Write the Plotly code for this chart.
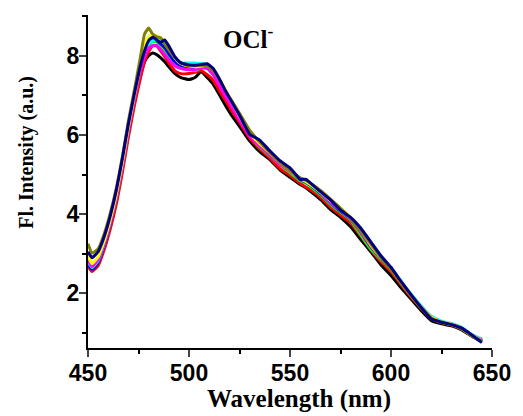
import plotly.graph_objects as go

wavelength = [450, 452, 455, 458, 461, 464, 467, 470, 473, 476, 478, 480, 482, 484, 486, 488, 490, 493, 496, 500,
              503, 506, 509, 512, 515, 518, 521, 525, 530, 535, 540, 545, 550, 555, 558, 562, 566, 570, 575, 580,
              585, 590, 595, 600, 605, 610, 615, 620, 625, 630, 635, 640, 645]

black = [2.85, 2.70, 2.85, 3.25, 3.80, 4.45, 5.25, 6.10, 6.85, 7.50, 7.85, 8.00, 8.07, 8.03, 7.95, 7.85, 7.72, 7.55, 7.45, 7.40,
         7.45, 7.60, 7.45, 7.28, 7.02, 6.75, 6.50, 6.22, 5.85, 5.58, 5.38, 5.12, 4.93, 4.75, 4.66, 4.50, 4.33, 4.12, 3.92, 3.68,
         3.36, 3.05, 2.72, 2.45, 2.14, 1.85, 1.56, 1.31, 1.23, 1.18, 1.08, 0.92, 0.78]
red = [2.68, 2.55, 2.70, 3.10, 3.62, 4.25, 5.05, 5.95, 6.75, 7.45, 7.85, 8.10, 8.25, 8.25, 8.12, 7.98, 7.82, 7.62, 7.55, 7.55,
       7.58, 7.63, 7.52, 7.38, 7.12, 6.88, 6.62, 6.32, 5.92, 5.65, 5.42, 5.15, 4.98, 4.78, 4.68, 4.55, 4.38, 4.18, 3.98, 3.78,
       3.45, 3.10, 2.80, 2.55, 2.22, 1.90, 1.62, 1.35, 1.26, 1.20, 1.10, 0.92, 0.80]
green = [2.80, 2.62, 2.80, 3.20, 3.75, 4.40, 5.20, 6.10, 6.92, 7.65, 8.05, 8.28, 8.35, 8.35, 8.25, 8.12, 7.95, 7.78, 7.70, 7.68,
         7.62, 7.70, 7.72, 7.55, 7.30, 7.02, 6.75, 6.42, 6.00, 5.70, 5.48, 5.25, 5.05, 4.85, 4.78, 4.62, 4.45, 4.25, 4.05, 3.85,
         3.48, 3.12, 2.85, 2.60, 2.26, 1.94, 1.64, 1.38, 1.27, 1.21, 1.11, 0.93, 0.80]
blue = [2.75, 2.60, 2.78, 3.20, 3.75, 4.42, 5.22, 6.12, 6.95, 7.70, 8.10, 8.32, 8.40, 8.38, 8.30, 8.20, 8.05, 7.85, 7.75, 7.72,
        7.70, 7.72, 7.74, 7.60, 7.35, 7.05, 6.78, 6.45, 6.02, 5.75, 5.50, 5.28, 5.10, 4.88, 4.80, 4.66, 4.48, 4.28, 4.08, 3.88,
        3.55, 3.18, 2.88, 2.62, 2.28, 1.96, 1.66, 1.40, 1.28, 1.22, 1.12, 0.94, 0.82]
cyan = [2.80, 2.65, 2.82, 3.25, 3.80, 4.45, 5.25, 6.15, 6.98, 7.70, 8.10, 8.30, 8.38, 8.40, 8.40, 8.32, 8.22, 7.95, 7.82, 7.82,
        7.82, 7.80, 7.78, 7.62, 7.35, 7.05, 6.78, 6.45, 6.05, 5.78, 5.52, 5.30, 5.12, 4.90, 4.82, 4.68, 4.50, 4.30, 4.10, 3.90,
        3.58, 3.22, 2.90, 2.64, 2.30, 1.98, 1.68, 1.42, 1.30, 1.24, 1.14, 0.96, 0.85]
magenta = [2.85, 2.68, 2.85, 3.25, 3.78, 4.42, 5.22, 6.12, 6.92, 7.62, 7.98, 8.18, 8.26, 8.26, 8.15, 8.03, 7.90, 7.75, 7.68, 7.65,
           7.65, 7.70, 7.68, 7.52, 7.25, 6.98, 6.72, 6.38, 5.98, 5.72, 5.50, 5.25, 5.08, 4.90, 4.82, 4.70, 4.50, 4.30, 4.10, 3.88,
           3.55, 3.20, 2.88, 2.62, 2.28, 1.95, 1.65, 1.40, 1.28, 1.22, 1.12, 0.95, 0.82]
yellow = [2.95, 2.75, 2.92, 3.32, 3.85, 4.50, 5.30, 6.20, 7.00, 7.78, 8.25, 8.48, 8.53, 8.50, 8.45, 8.38, 8.22, 7.95, 7.80, 7.74,
          7.72, 7.74, 7.75, 7.65, 7.42, 7.15, 6.85, 6.48, 6.05, 5.78, 5.55, 5.30, 5.10, 4.90, 4.82, 4.68, 4.52, 4.35, 4.15, 3.92,
          3.60, 3.22, 2.90, 2.62, 2.28, 1.95, 1.65, 1.40, 1.28, 1.22, 1.12, 0.94, 0.80]
olive = [3.25, 3.02, 3.12, 3.50, 4.02, 4.65, 5.45, 6.35, 7.15, 7.98, 8.55, 8.70, 8.55, 8.48, 8.45, 8.30, 8.15, 7.95, 7.82, 7.75,
         7.75, 7.76, 7.74, 7.62, 7.40, 7.12, 6.88, 6.55, 6.12, 5.82, 5.55, 5.30, 5.10, 4.92, 4.85, 4.72, 4.56, 4.38, 4.15, 3.90,
         3.58, 3.25, 2.90, 2.60, 2.26, 1.94, 1.64, 1.38, 1.27, 1.21, 1.11, 0.93, 0.80]
navy = [3.05, 2.90, 3.05, 3.43, 3.95, 4.60, 5.40, 6.28, 7.05, 7.75, 8.12, 8.38, 8.47, 8.40, 8.34, 8.40, 8.25, 7.98, 7.82, 7.77,
        7.76, 7.78, 7.80, 7.68, 7.42, 7.12, 6.85, 6.50, 6.02, 5.87, 5.60, 5.35, 5.17, 4.88, 4.88, 4.70, 4.53, 4.36, 4.10, 3.92,
        3.65, 3.30, 2.95, 2.66, 2.30, 1.96, 1.64, 1.35, 1.27, 1.21, 1.12, 0.95, 0.76]

series = [
    ("black", black, "#000000"),
    ("red", red, "#FF0000"),
    ("green", green, "#00FF00"),
    ("blue", blue, "#0000FF"),
    ("cyan", cyan, "#00FFFF"),
    ("magenta", magenta, "#FF00FF"),
    ("yellow", yellow, "#FFFF00"),
    ("olive", olive, "#808000"),
    ("navy", navy, "#000080"),
]

fig = go.Figure()
for name, vals, col in series:
    fig.add_trace(go.Scatter(x=wavelength, y=vals, mode="lines", name=name,
                             line=dict(color=col, width=3, shape="spline", smoothing=0.4)))

tickfont = dict(family="Liberation Sans, Arial, sans-serif", size=23, color="black", weight="bold")
serif = "Liberation Serif, Times New Roman, serif"

plot_w = 523 - 88 - 26
plot_h = 416 - 15 - 68

fig.update_layout(
    width=523, height=416,
    margin=dict(l=88, r=26, t=15, b=68),
    paper_bgcolor="white", plot_bgcolor="white",
    showlegend=False,
    xaxis=dict(range=[450, 650], tickvals=[450, 500, 550, 600, 650], ticks="outside", ticklen=7, tickwidth=2,
               showline=True, linewidth=2, linecolor="black", showgrid=False, zeroline=False,
               tickfont=tickfont, ticklabelstandoff=-4,
               minor=dict(tickvals=[475, 525, 575, 625], ticks="outside", ticklen=4, tickwidth=2, tickcolor="black")),
    yaxis=dict(range=[0.62, 9.03], tickvals=[2, 4, 6, 8], ticks="outside", ticklen=7, tickwidth=2,
               showline=True, linewidth=2, linecolor="black", showgrid=False, zeroline=False,
               tickfont=tickfont, ticklabelstandoff=-5,
               minor=dict(tickvals=[1, 3, 5, 7, 9], ticks="outside", ticklen=4, tickwidth=2, tickcolor="black")),
    annotations=[
        dict(text="OCl<sup>-</sup>", x=0.396, y=0.988, xref="paper", yref="paper",
             showarrow=False, font=dict(family=serif, size=25, color="black", weight="bold")),
        dict(text="Wavelength (nm)", x=(302 - 88) / plot_w, y=(348 - 399) / plot_h, xref="paper", yref="paper",
             xanchor="center", yanchor="middle",
             showarrow=False, font=dict(family=serif, size=25, color="black", weight="bold")),
        dict(text="Fl. Intensity (a.u.)", x=(25 - 88) / plot_w, y=(348 - 152) / plot_h, xref="paper", yref="paper",
             xanchor="center", yanchor="middle", textangle=-90, showarrow=False,
             font=dict(family=serif, size=20, color="black", weight="bold")),
    ],
)

fig.write_html("out.html")
